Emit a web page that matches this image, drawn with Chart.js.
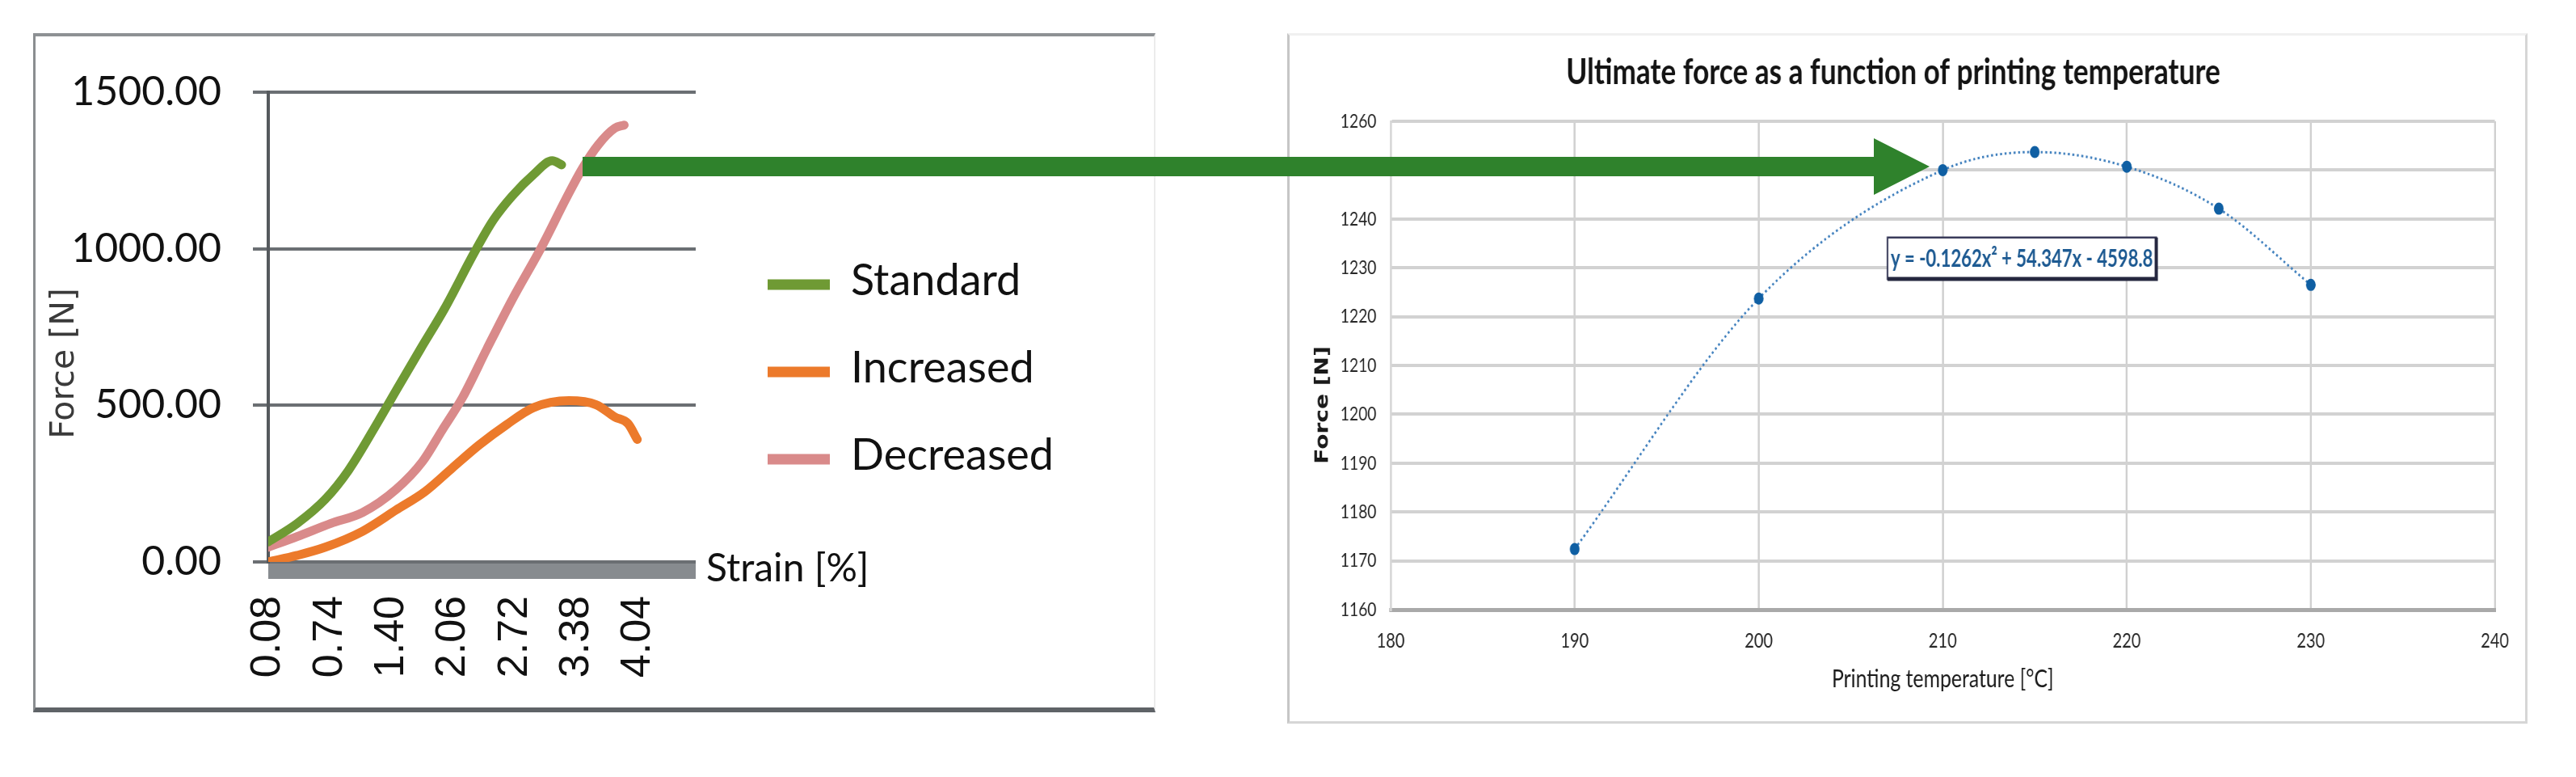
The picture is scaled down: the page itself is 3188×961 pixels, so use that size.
<!DOCTYPE html>
<html lang="en">
<head>
<meta charset="utf-8">
<title>Force vs strain / ultimate force vs printing temperature</title>
<script src="https://cdn.jsdelivr.net/npm/chart.js@4.4.1/dist/chart.umd.min.js"></script>
<style>
  html, body { margin: 0; padding: 0; background: #fff; }
  body { width: 3188px; height: 961px; position: relative; overflow: hidden; }
  .panel { position: absolute; box-sizing: border-box; }
  #leftPanel {
    left: 41px; top: 41px; width: 1389px; height: 840px;
    border-left: 3px solid #8a8d90; border-top: 4px solid #8e9194;
    border-bottom: 6px solid #5f6367; border-right: 2px solid #ececec;
  }
  #rightPanel {
    left: 1593px; top: 41px; width: 1535px; height: 854px;
    border: 3px solid #d6d6d6; border-top-color: #f0f0f0; border-left-color: #c6c6c6;
  }
  #leftWrap { position: absolute; left: 45px; top: 45px; width: 1380px; height: 830px; }
  /* the right chart is squeezed sideways like the pasted Excel picture */
  #rightWrap {
    position: absolute; left: 1597px; top: 45px; width: 1909px; height: 845px;
    transform: scaleX(0.8); transform-origin: 0 0;
  }
  #arrow { position: absolute; left: 0; top: 0; z-index: 5; pointer-events: none; }
</style>
</head>
<body>
  <div class="panel" id="leftPanel"></div>
  <div class="panel" id="rightPanel"></div>
  <div id="leftWrap"><canvas id="leftChart" width="1380" height="830"></canvas></div>
  <div id="rightWrap"><canvas id="rightChart" width="1909" height="845"></canvas></div>
  <svg id="arrow" width="3188" height="961">
    <polygon fill="#2f822c" points="721,194 2319,194 2319,171 2388,206 2319,241 2319,218 721,218" />
  </svg>

<script>
  // ---------- left chart: force vs strain
  const strainTicks = [0.08, 0.74, 1.40, 2.06, 2.72, 3.38, 4.04]
  const forceTicks = [0, 500, 1000, 1500]

  const standardStrain = [0.08, 0.39, 0.69, 0.94, 1.26, 1.45, 1.71, 1.97, 2.29, 2.49, 2.69, 2.92, 3.12, 3.22]
  const standardForce = [64, 123, 200, 293, 450, 548, 680, 810, 990, 1092, 1168, 1237, 1281, 1268]

  const increasedStrain = [0.08, 0.39, 0.69, 1.09, 1.45, 1.76, 2.05, 2.34, 2.63, 2.92, 3.30, 3.59, 3.79, 3.93, 4.03]
  const increasedForce = [0, 21, 47, 98, 166, 225, 300, 374, 438, 493, 515, 502, 463, 442, 391]

  const decreasedStrain = [0.08, 0.39, 0.75, 1.09, 1.45, 1.73, 1.94, 2.16, 2.42, 2.69, 3.01, 3.27, 3.44, 3.61, 3.79, 3.89]
  const decreasedForce = [47, 81, 123, 158, 232, 320, 420, 525, 680, 837, 1008, 1161, 1255, 1331, 1385, 1395]

  const seriesNames = ["Standard", "Increased", "Decreased"]
  const seriesColors = ["#6f9a34", "#ec7a2b", "#d98a8a"]

  // ---------- right chart: ultimate force vs printing temperature
  const printTemps = [190, 200, 210, 215, 220, 225, 230]
  const ultimateForce = [1172.4, 1223.7, 1250.0, 1253.7, 1250.7, 1242.1, 1226.5]
  const trendLabel = "y = -0.1262x\u00b2 + 54.347x - 4598.8"
  const rightTitle = "Ultimate force as a function of printing temperature"

  // where the equation box sits, in data units: x from, x to, y top, y bottom
  const eqBoxPos = [207.0, 221.6, 1236.2, 1227.7]

  const pts = (xs, ys) => xs.map((x, i) => ({ x: x, y: ys[i] }))
  const fixedTicks = (list) => (scale) => { scale.ticks = list.map(v => ({ value: v })) }

  const leftExtras = {
    id: "leftExtras",
    beforeDatasetsDraw(chart) {
      // thick grey category-axis band under the zero line
      const { ctx, chartArea: a } = chart
      ctx.save()
      ctx.fillStyle = "#878b8f"
      ctx.fillRect(a.left, a.bottom + 2, a.right - a.left, 19)
      ctx.restore()
    },
    afterDraw(chart) {
      const { ctx, chartArea: a } = chart
      ctx.save()
      // legend on the right
      chart.data.datasets.forEach((ds, i) => {
        const y = 307 + i * 108
        ctx.strokeStyle = ds.borderColor
        ctx.lineWidth = 13
        ctx.beginPath()
        ctx.moveTo(905, y)
        ctx.lineTo(982, y)
        ctx.stroke()
        ctx.fillStyle = "#111"
        ctx.font = "54px Lato"
        ctx.textBaseline = "middle"
        ctx.textAlign = "left"
        ctx.fillText(ds.label, 1008, y - 4)
      })
      // axis titles
      ctx.font = "48px Lato"
      ctx.fillText("Strain [%]", a.right + 13, a.bottom + 9)
      ctx.translate(35, (a.top + a.bottom) / 2 + 45)
      ctx.rotate(-Math.PI / 2)
      ctx.textAlign = "center"
      ctx.fillStyle = "#3a3a3a"
      ctx.font = "41px 'DejaVu Sans'"
      ctx.fillText("Force [N]", 0, 0)
      ctx.restore()
    },
  }

  new Chart(document.getElementById("leftChart"), {
    type: "line",
    data: {
      datasets: [
        { label: seriesNames[0], data: pts(standardStrain, standardForce), borderColor: seriesColors[0] },
        { label: seriesNames[1], data: pts(increasedStrain, increasedForce), borderColor: seriesColors[1] },
        { label: seriesNames[2], data: pts(decreasedStrain, decreasedForce), borderColor: seriesColors[2] },
      ],
    },
    options: {
      responsive: false,
      animation: false,
      devicePixelRatio: 1,
      layout: { padding: { top: 63, right: 564, left: 0, bottom: 0 } },
      elements: {
        point: { radius: 0 },
        line: { borderWidth: 11, cubicInterpolationMode: "monotone", borderCapStyle: "round" },
      },
      plugins: { legend: { display: false }, tooltip: { enabled: false } },
      scales: {
        x: {
          type: "linear",
          min: 0.08,
          max: 4.656,
          afterBuildTicks: fixedTicks(strainTicks),
          afterFit: (s) => { s.height = 180 },
          grid: { display: false, drawTicks: false },
          border: { display: false },
          ticks: {
            autoSkip: false, minRotation: 90, maxRotation: 90, padding: 42,
            font: { family: "'Liberation Sans', Arial", size: 52 }, color: "#111",
            callback: (v) => v.toFixed(2),
          },
        },
        y: {
          min: 0,
          max: 1500,
          afterBuildTicks: fixedTicks(forceTicks),
          afterFit: (s) => { s.width = 287 },
          grid: { color: "#6b6f73", lineWidth: 4, tickLength: 19 },
          border: { color: "#55595d", width: 4 },
          ticks: {
            padding: 39, font: { family: "Lato", size: 50 }, color: "#111",
            callback: (v) => v.toFixed(2),
          },
        },
      },
    },
    plugins: [leftExtras],
  })

  const rightExtras = {
    id: "rightExtras",
    afterDatasetsDraw(chart) {
      const { ctx, scales } = chart
      const x0 = scales.x.getPixelForValue(eqBoxPos[0])
      const x1 = scales.x.getPixelForValue(eqBoxPos[1])
      const y0 = scales.y.getPixelForValue(eqBoxPos[2])
      const y1 = scales.y.getPixelForValue(eqBoxPos[3])
      ctx.save()
      ctx.fillStyle = "#fff"
      ctx.fillRect(x0, y0, x1 - x0, y1 - y0)
      ctx.strokeStyle = "#3a3c5a"
      ctx.lineWidth = 2.5
      ctx.strokeRect(x0, y0, x1 - x0, y1 - y0)
      ctx.strokeStyle = "#25273f"
      ctx.lineWidth = 5
      ctx.beginPath()
      ctx.moveTo(x1, y0)
      ctx.lineTo(x1, y1)
      ctx.lineTo(x0, y1)
      ctx.stroke()
      // equation, squeezed to fill the box
      ctx.font = "bold 31px Lato"
      const k = (x1 - x0 - 10) / ctx.measureText(trendLabel).width
      ctx.translate((x0 + x1) / 2, (y0 + y1) / 2 + 1)
      ctx.scale(Math.min(k, 1), 1)
      ctx.fillStyle = "#1d5a92"
      ctx.textAlign = "center"
      ctx.textBaseline = "middle"
      ctx.fillText(trendLabel, 0, 0)
      ctx.restore()
    },
    afterDraw(chart) {
      const { ctx, chartArea: a } = chart
      ctx.save()
      ctx.translate(51, (a.top + a.bottom) / 2 + 49)
      ctx.rotate(-Math.PI / 2)
      ctx.fillStyle = "#1a1a1a"
      ctx.font = "bold 28px 'DejaVu Sans'"
      ctx.textAlign = "center"
      ctx.textBaseline = "middle"
      ctx.fillText("Force [N]", 0, 0)
      ctx.restore()
    },
  }

  new Chart(document.getElementById("rightChart"), {
    type: "line",
    data: {
      datasets: [
        {
          label: "Ultimate force",
          data: pts(printTemps, ultimateForce),
          borderColor: "#3f7fbd",
          borderWidth: 3,
          borderDash: [3, 4],
          cubicInterpolationMode: "monotone",
          pointRadius: 7.5,
          pointBackgroundColor: "#0f5fa3",
          pointBorderColor: "#0f5fa3",
          pointBorderWidth: 0,
        },
      ],
    },
    options: {
      responsive: false,
      animation: false,
      devicePixelRatio: 1,
      layout: { padding: { top: 0, right: 44, left: 0, bottom: 0 } },
      plugins: {
        legend: { display: false },
        tooltip: { enabled: false },
        title: {
          display: true,
          text: rightTitle,
          color: "#141414",
          font: { family: "Lato", weight: "bold", size: 44, lineHeight: 1.2 },
          padding: { top: 18.6, bottom: 33.6 },
        },
      },
      scales: {
        x: {
          type: "linear",
          min: 180,
          max: 240,
          afterFit: (s) => { s.height = 136 },
          grid: { color: "#d0d0d0", lineWidth: 3, drawTicks: false },
          border: { color: "#a9a9a9", width: 5 },
          ticks: {
            stepSize: 10, padding: 24, font: { family: "Lato", size: 25 }, color: "#262626",
            callback: (v) => String(v),
          },
          title: {
            display: true,
            text: "Printing temperature [\u00b0C]",
            color: "#1a1a1a",
            font: { family: "Lato", size: 31, lineHeight: 1.2 },
            padding: { top: 0, bottom: 31 },
          },
        },
        y: {
          min: 1160,
          max: 1260,
          afterFit: (s) => { s.width = 155 },
          grid: { color: "#d2d2d2", lineWidth: 4, drawTicks: false },
          border: { color: "#d6d6d6", width: 3 },
          ticks: {
            stepSize: 10, padding: 22, font: { family: "Lato", size: 24 }, color: "#262626",
            callback: (v) => String(v),
          },
        },
      },
    },
    plugins: [rightExtras],
  })
</script>
</body>
</html>
